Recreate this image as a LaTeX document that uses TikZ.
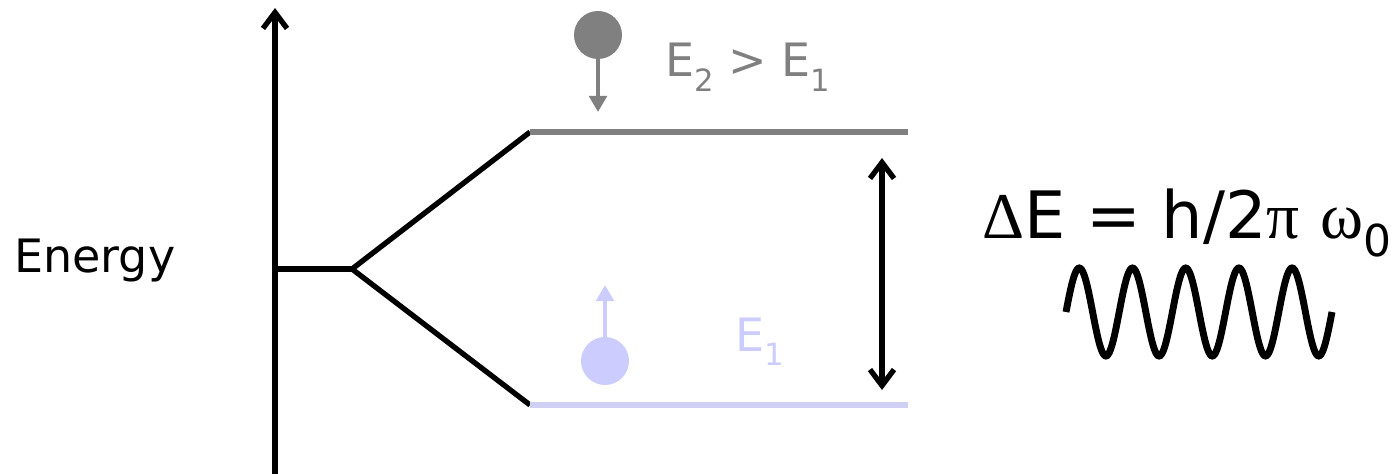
\documentclass[tikz,border=0pt]{standalone}
\usepackage{fontspec}
\setmainfont{DejaVu Sans}
\newfontfamily\grk{Liberation Serif}
\usetikzlibrary{arrows.meta}
\definecolor{lvltwo}{RGB}{128,128,128}
\definecolor{lav}{RGB}{204,204,255}
\definecolor{lavline}{RGB}{208,208,245}
\tikzset{mybarb/.tip={Straight Barb[length=12pt,width=18pt,line width=4pt]},
  mytri/.tip={Triangle[length=12pt,width=13pt]}}
\begin{document}
\begin{tikzpicture}[x=0.75pt,y=-0.75pt,
  thick line/.style={line width=4pt},
  lbl/.style={inner sep=0pt,anchor=base west,font=\fontsize{34.5}{40}\selectfont},
  ball/.style={circle,minimum size=36pt,inner sep=0pt},
  stem/.style={line width=3.6pt,-{mytri}}]
\useasboundingbox (0,0) rectangle (1398,474);
% axis
\coordinate (axb) at (275,474);
\coordinate (axt) at (275,8);
\draw[thick line,-{mybarb}] (axb) -- (axt);
\node[lbl] (energy) at (14,272) {Energy};
% levels
\coordinate (s0) at (275,269);
\coordinate (s1) at (352,269);
\coordinate (u0) at (530,132);
\coordinate (u1) at (908,132);
\coordinate (d0) at (530,405);
\coordinate (d1) at (908,405);
\draw[thick line] (s0) -- (s1);
\draw[thick line,line join=miter] (u0) -- (s1) -- (d0);
\draw[thick line,lvltwo] (u0) -- (u1);
\draw[thick line,lavline] (d0) -- (d1);
% gap arrow
\coordinate (gt) at (882,158);
\coordinate (gb) at (882,390);
\draw[thick line,{mybarb}-{mybarb}] (gb) -- (gt);
% upper ball
\node[ball,fill=lvltwo] (b2) at (598,35) {};
\coordinate (b2t) at (598,112);
\draw[stem,lvltwo] (b2.south) -- (b2t);
\node[lbl,text=lvltwo] (e2) at (665,77) {E\raisebox{-0.32em}{\fontsize{23}{23}\selectfont 2} > E\raisebox{-0.32em}{\fontsize{23}{23}\selectfont 1}};
% lower ball
\node[ball,fill=lav] (b1) at (605,361) {};
\coordinate (b1t) at (605,285);
\draw[stem,lav] (b1.north) -- (b1t);
\node[lbl,text=lav] (e1) at (735,351) {E\raisebox{-0.32em}{\fontsize{23}{23}\selectfont 1}};
% formula
\node[inner sep=0pt,anchor=base west,font=\fontsize{49}{56}\selectfont] (de) at (982,238)
  {{\grk Δ}E = h/2{\grk π} {\grk ω}\raisebox{-0.28em}{\fontsize{33}{33}\selectfont 0}};
% wave
\draw[line width=5.2pt] plot[domain=0:1800,samples=241,smooth] ({1066+\x/360*53.2},{312-44*sin(\x)});
\end{tikzpicture}
\end{document}
